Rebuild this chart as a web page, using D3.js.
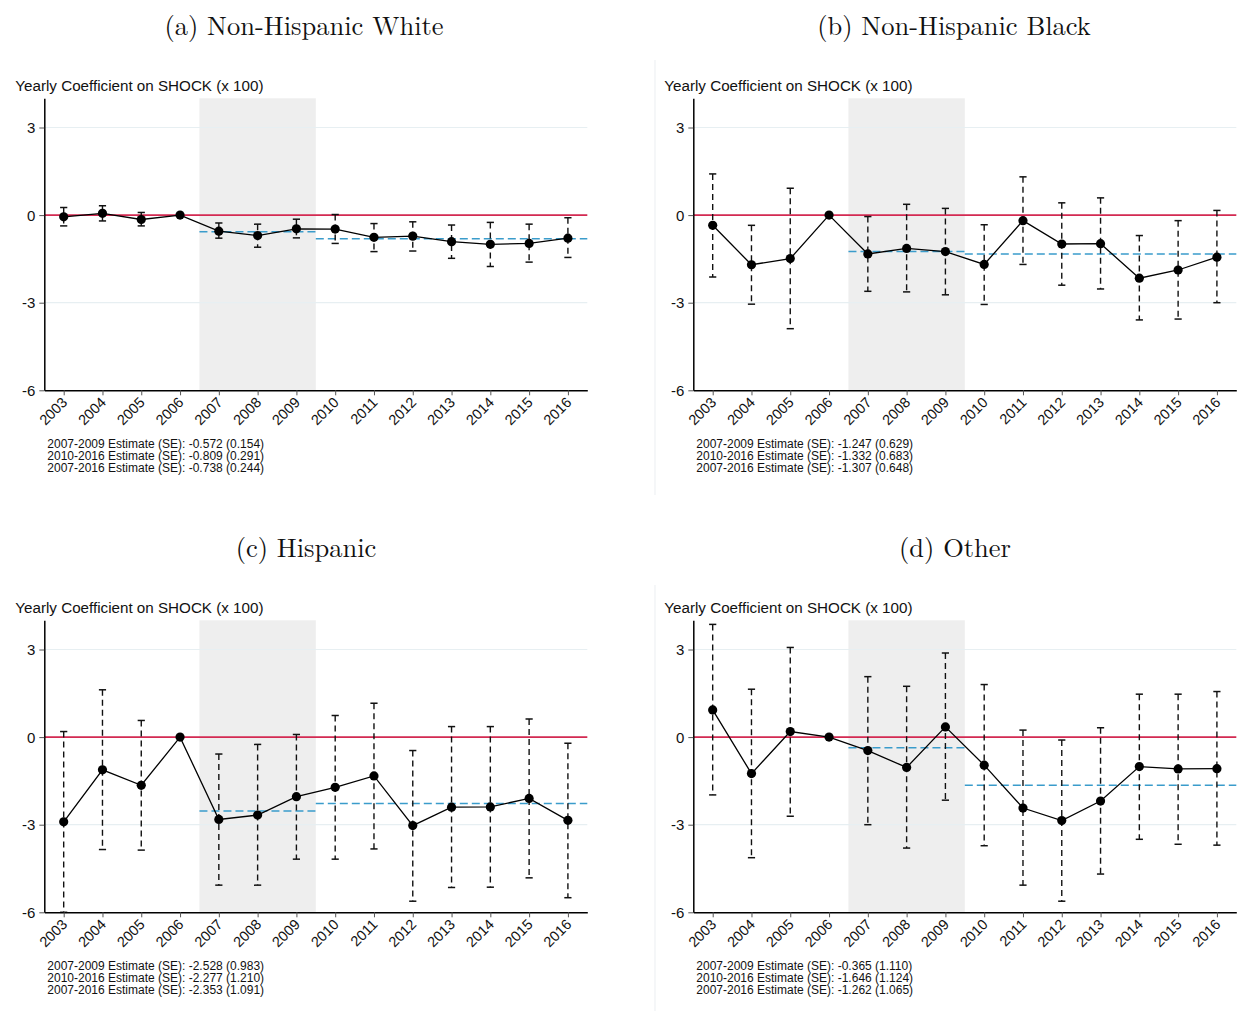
<!DOCTYPE html>
<html>
<head>
<meta charset="utf-8">
<script src="https://cdn.jsdelivr.net/npm/d3@7"></script>
<style>
  body { margin: 0; background: #fff; }
  text { font-family: "Liberation Sans", Arial, Helvetica, sans-serif; fill: #111; }
  .title { font-family: "Latin Modern Roman", "CMU Serif", "Liberation Serif", serif; }
</style>
</head>
<body>
<div id="chart"></div>
<script>
// Data
const years = [2003, 2004, 2005, 2006, 2007, 2008, 2009, 2010, 2011, 2012, 2013, 2014, 2015, 2016];
const yTicks = [3, 0, -3, -6];
const estLabels = ["2007-2009", "2010-2016", "2007-2016"];

// (a) Non-Hispanic White
const whiteCoef = [-0.06, 0.06, -0.15, 0, -0.55, -0.70, -0.47, -0.48, -0.76, -0.72, -0.91, -1.00, -0.97, -0.79];
const whiteHi   = [0.26, 0.32, 0.09, null, -0.27, -0.31, -0.14, 0.02, -0.29, -0.23, -0.34, -0.25, -0.31, -0.09];
const whiteLo   = [-0.37, -0.20, -0.37, null, -0.79, -1.10, -0.78, -0.97, -1.25, -1.23, -1.48, -1.76, -1.61, -1.45];
const whiteEst  = [-0.572, -0.809, -0.738];
const whiteSE   = [0.154, 0.291, 0.244];

// (b) Non-Hispanic Black
const blackCoef = [-0.35, -1.70, -1.49, 0, -1.33, -1.14, -1.25, -1.69, -0.19, -0.99, -0.98, -2.16, -1.88, -1.44];
const blackHi   = [1.41, -0.35, 0.92, null, -0.05, 0.37, 0.23, -0.33, 1.31, 0.42, 0.59, -0.70, -0.19, 0.16];
const blackLo   = [-2.12, -3.05, -3.89, null, -2.61, -2.63, -2.73, -3.06, -1.69, -2.40, -2.53, -3.59, -3.56, -3.00];
const blackEst  = [-1.247, -1.332, -1.307];
const blackSE   = [0.629, 0.683, 0.648];

// (c) Hispanic
const hispCoef = [-2.90, -1.12, -1.65, 0, -2.82, -2.67, -2.04, -1.72, -1.33, -3.03, -2.40, -2.39, -2.10, -2.85];
const hispHi   = [0.19, 1.62, 0.57, null, -0.58, -0.25, 0.09, 0.74, 1.16, -0.46, 0.36, 0.36, 0.62, -0.21];
const hispLo   = [-6.00, -3.85, -3.87, null, -5.07, -5.07, -4.18, -4.18, -3.83, -5.62, -5.15, -5.14, -4.82, -5.50];
const hispEst  = [-2.528, -2.277, -2.353];
const hispSE   = [0.983, 1.210, 1.091];

// (d) Other
const otherCoef = [0.93, -1.25, 0.19, 0, -0.46, -1.04, 0.35, -0.96, -2.43, -2.86, -2.19, -1.01, -1.09, -1.08];
const otherHi   = [3.86, 1.64, 3.07, null, 2.07, 1.74, 2.88, 1.80, 0.24, -0.10, 0.32, 1.47, 1.47, 1.56];
const otherLo   = [-1.98, -4.13, -2.71, null, -3.00, -3.80, -2.16, -3.72, -5.07, -5.62, -4.69, -3.50, -3.67, -3.70];
const otherEst  = [-0.365, -1.646, -1.262];
const otherSE   = [1.110, 1.124, 1.065];

const panels = [
  { title: "(a) Non-Hispanic White", coef: whiteCoef, lo: whiteLo, hi: whiteHi, est: whiteEst, se: whiteSE, left: 44.3, top: 98.3, titleX: 304, titleY: 35 },
  { title: "(b) Non-Hispanic Black", coef: blackCoef, lo: blackLo, hi: blackHi, est: blackEst, se: blackSE, left: 693.3, top: 98.3, titleX: 954, titleY: 35 },
  { title: "(c) Hispanic", coef: hispCoef, lo: hispLo, hi: hispHi, est: hispEst, se: hispSE, left: 44.3, top: 620.3, titleX: 306, titleY: 557 },
  { title: "(d) Other", coef: otherCoef, lo: otherLo, hi: otherHi, est: otherEst, se: otherSE, left: 693.3, top: 620.3, titleX: 955, titleY: 557 }
];

// Layout
const width = 1243;
const height = 1011;
const W = 543, H = 292;

const svg = d3.select("#chart")
  .append("svg")
  .attr("width", width)
  .attr("height", height);

// faint subfigure separator
svg.append("line")
  .attr("x1", 655).attr("x2", 655).attr("y1", 60).attr("y2", 495)
  .attr("stroke", "#eef1f3").attr("stroke-width", 1.2);
svg.append("line")
  .attr("x1", 655).attr("x2", 655).attr("y1", 585).attr("y2", 1011)
  .attr("stroke", "#eef1f3").attr("stroke-width", 1.2);

const x = d3.scaleLinear().domain([2002.5, 2016.5]).range([0, W]);
const y = d3.scaleLinear().domain([-6, 4]).range([H, 0]);

panels.forEach(p => {
  svg.append("text")
    .attr("class", "title")
    .attr("x", p.titleX)
    .attr("y", p.titleY)
    .attr("text-anchor", "middle")
    .attr("font-size", "26.5px")
    .text(p.title);

  const g = svg.append("g").attr("transform", `translate(${p.left},${p.top})`);

  // axis title
  g.append("text")
    .attr("x", -29)
    .attr("y", -7)
    .attr("font-size", "15.2px")
    .text("Yearly Coefficient on SHOCK (x 100)");

  // recession shading
  g.append("rect")
    .attr("x", x(2006.5))
    .attr("y", 0)
    .attr("width", x(2009.5) - x(2006.5))
    .attr("height", H)
    .attr("fill", "#eeeeee");

  // grid
  g.append("g")
    .selectAll("line")
    .data(yTicks.filter(d => d !== -6))
    .enter()
    .append("line")
    .attr("x1", 0).attr("x2", W)
    .attr("y1", d => y(d)).attr("y2", d => y(d))
    .attr("stroke", "#e7eff2")
    .attr("stroke-width", 1.2);

  // zero line
  g.append("line")
    .attr("x1", 0).attr("x2", W)
    .attr("y1", y(0)).attr("y2", y(0))
    .attr("stroke", "#d42a52")
    .attr("stroke-width", 1.6);

  // period estimates
  const segs = [
    { x0: 2006.5, x1: 2009.5, v: p.est[0] },
    { x0: 2009.5, x1: 2016.5, v: p.est[1] }
  ];
  g.append("g")
    .selectAll("line")
    .data(segs)
    .enter()
    .append("line")
    .attr("x1", d => x(d.x0)).attr("x2", d => x(d.x1))
    .attr("y1", d => y(d.v)).attr("y2", d => y(d.v))
    .attr("stroke", "#3a9ccb")
    .attr("stroke-width", 1.5)
    .attr("stroke-dasharray", "8,4");

  // error bars
  const rows = years.map((yr, i) => ({ yr, c: p.coef[i], lo: p.lo[i], hi: p.hi[i] }));
  const bars = rows.filter(d => d.lo !== null);

  g.append("g")
    .selectAll("line")
    .data(bars)
    .enter()
    .append("line")
    .attr("x1", d => x(d.yr)).attr("x2", d => x(d.yr))
    .attr("y1", d => y(d.hi)).attr("y2", d => y(d.lo))
    .attr("stroke", "#111")
    .attr("stroke-width", 1.4)
    .attr("stroke-dasharray", "6,4");

  const caps = [];
  bars.forEach(d => { caps.push({ yr: d.yr, v: d.hi }); caps.push({ yr: d.yr, v: d.lo }); });
  g.append("g")
    .selectAll("line")
    .data(caps)
    .enter()
    .append("line")
    .attr("x1", d => x(d.yr) - 3.6).attr("x2", d => x(d.yr) + 3.6)
    .attr("y1", d => y(d.v)).attr("y2", d => y(d.v))
    .attr("stroke", "#111")
    .attr("stroke-width", 1.5);

  // coefficient line + markers
  const line = d3.line().x(d => x(d.yr)).y(d => y(d.c));
  g.append("path")
    .datum(rows)
    .attr("d", line)
    .attr("fill", "none")
    .attr("stroke", "#000")
    .attr("stroke-width", 1.3);

  g.append("g")
    .selectAll("circle")
    .data(rows)
    .enter()
    .append("circle")
    .attr("cx", d => x(d.yr))
    .attr("cy", d => y(d.c))
    .attr("r", 4.6)
    .attr("fill", "#000");

  // y axis
  const yAxis = g.append("g")
    .call(d3.axisLeft(y).tickValues(yTicks).tickSize(5).tickSizeOuter(0).tickFormat(d => String(d)));
  yAxis.select(".domain").attr("stroke", "#000").attr("stroke-width", 1.5);
  yAxis.selectAll(".tick line").attr("stroke", "#555");
  yAxis.selectAll(".tick text")
    .attr("x", -9)
    .attr("dy", "0.34em")
    .attr("font-size", "15px")
    .attr("font-family", "Liberation Sans, Arial, sans-serif")
    .attr("fill", "#111");

  // x axis
  const xAxis = g.append("g")
    .attr("transform", `translate(0,${H})`)
    .call(d3.axisBottom(x).tickValues(years).tickSize(5).tickSizeOuter(0).tickFormat(d => String(d)));
  xAxis.select(".domain").attr("stroke", "#000").attr("stroke-width", 1.5);
  xAxis.selectAll(".tick line").attr("stroke", "#555");
  xAxis.selectAll(".tick text")
    .attr("x", 0).attr("y", 0).attr("dy", 0)
    .attr("transform", "translate(4,13) rotate(-45)")
    .style("text-anchor", "end")
    .attr("font-size", "14.5px")
    .attr("font-family", "Liberation Sans, Arial, sans-serif")
    .attr("fill", "#111");

  // estimate notes
  g.append("g")
    .selectAll("text")
    .data(estLabels)
    .enter()
    .append("text")
    .attr("x", 3)
    .attr("y", (d, i) => H + 58 + i * 11.8)
    .attr("font-size", "12px")
    .text((d, i) => `${d} Estimate (SE): ${p.est[i].toFixed(3)} (${p.se[i].toFixed(3)})`);
});
</script>
</body>
</html>
